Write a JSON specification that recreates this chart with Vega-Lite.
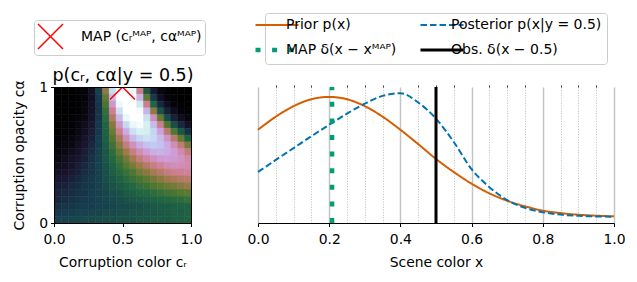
{
"$schema": "https://vega.github.io/schema/vega-lite/v6.json",
"padding": {"left": 12, "top": 12, "right": 5, "bottom": 5},
"config": {
  "font": "DejaVu Sans",
  "view": {"stroke": null},
  "axis": {"labelFont": "DejaVu Sans", "titleFont": "DejaVu Sans", "labelFontSize": 13.9, "titleFontSize": 13.9, "labelColor": "#000", "titleColor": "#000", "titleFontWeight": "normal", "tickColor": "#000", "domainColor": "#000", "grid": false},
  "legend": {"labelFont": "DejaVu Sans", "labelFontSize": 13.9, "labelColor": "#000"},
  "concat": {"spacing": 40}
},
"resolve": {"scale": {"color": "independent", "stroke": "independent", "shape": "independent", "strokeDash": "independent"}, "legend": {"color": "independent", "stroke": "independent", "shape": "independent", "strokeDash": "independent"}},
"datasets": {
"heat": [
{"c":0,"a":0.95,"v":0},{"c":0.05,"a":0.95,"v":0},{"c":0.1,"a":0.95,"v":0},{"c":0.15,"a":0.95,"v":0.01},{"c":0.2,"a":0.95,"v":0.02},{"c":0.25,"a":0.95,"v":0.08},{"c":0.3,"a":0.95,"v":0.21},{"c":0.35,"a":0.95,"v":0.48},{"c":0.4,"a":0.95,"v":0.85},{"c":0.45,"a":0.95,"v":1},{"c":0.5,"a":0.95,"v":1},{"c":0.55,"a":0.95,"v":0.96},{"c":0.6,"a":0.95,"v":0.59},{"c":0.65,"a":0.95,"v":0.27},{"c":0.7,"a":0.95,"v":0.11},{"c":0.75,"a":0.95,"v":0.03},{"c":0.8,"a":0.95,"v":0.01},{"c":0.85,"a":0.95,"v":0},{"c":0.9,"a":0.95,"v":0},{"c":0.95,"a":0.95,"v":0},
{"c":0,"a":0.9,"v":0},{"c":0.05,"a":0.9,"v":0},{"c":0.1,"a":0.9,"v":0},{"c":0.15,"a":0.9,"v":0.01},{"c":0.2,"a":0.9,"v":0.02},{"c":0.25,"a":0.9,"v":0.07},{"c":0.3,"a":0.9,"v":0.19},{"c":0.35,"a":0.9,"v":0.42},{"c":0.4,"a":0.9,"v":0.76},{"c":0.45,"a":0.9,"v":1},{"c":0.5,"a":0.9,"v":1},{"c":0.55,"a":0.9,"v":1},{"c":0.6,"a":0.9,"v":0.75},{"c":0.65,"a":0.9,"v":0.41},{"c":0.7,"a":0.9,"v":0.19},{"c":0.75,"a":0.9,"v":0.07},{"c":0.8,"a":0.9,"v":0.02},{"c":0.85,"a":0.9,"v":0.01},{"c":0.9,"a":0.9,"v":0},{"c":0.95,"a":0.9,"v":0},
{"c":0,"a":0.85,"v":0},{"c":0.05,"a":0.85,"v":0},{"c":0.1,"a":0.85,"v":0},{"c":0.15,"a":0.85,"v":0.01},{"c":0.2,"a":0.85,"v":0.03},{"c":0.25,"a":0.85,"v":0.08},{"c":0.3,"a":0.85,"v":0.18},{"c":0.35,"a":0.85,"v":0.38},{"c":0.4,"a":0.85,"v":0.68},{"c":0.45,"a":0.85,"v":0.96},{"c":0.5,"a":0.85,"v":1},{"c":0.55,"a":0.85,"v":1},{"c":0.6,"a":0.85,"v":0.89},{"c":0.65,"a":0.85,"v":0.59},{"c":0.7,"a":0.85,"v":0.3},{"c":0.75,"a":0.85,"v":0.15},{"c":0.8,"a":0.85,"v":0.06},{"c":0.85,"a":0.85,"v":0.02},{"c":0.9,"a":0.85,"v":0.01},{"c":0.95,"a":0.85,"v":0},
{"c":0,"a":0.8,"v":0},{"c":0.05,"a":0.8,"v":0},{"c":0.1,"a":0.8,"v":0},{"c":0.15,"a":0.8,"v":0.01},{"c":0.2,"a":0.8,"v":0.03},{"c":0.25,"a":0.8,"v":0.08},{"c":0.3,"a":0.8,"v":0.18},{"c":0.35,"a":0.8,"v":0.34},{"c":0.4,"a":0.8,"v":0.6},{"c":0.45,"a":0.8,"v":0.86},{"c":0.5,"a":0.8,"v":1},{"c":0.55,"a":0.8,"v":1},{"c":0.6,"a":0.8,"v":0.98},{"c":0.65,"a":0.8,"v":0.75},{"c":0.7,"a":0.8,"v":0.48},{"c":0.75,"a":0.8,"v":0.25},{"c":0.8,"a":0.8,"v":0.13},{"c":0.85,"a":0.8,"v":0.06},{"c":0.9,"a":0.8,"v":0.02},{"c":0.95,"a":0.8,"v":0.01},
{"c":0,"a":0.75,"v":0},{"c":0.05,"a":0.75,"v":0},{"c":0.1,"a":0.75,"v":0.01},{"c":0.15,"a":0.75,"v":0.02},{"c":0.2,"a":0.75,"v":0.04},{"c":0.25,"a":0.75,"v":0.09},{"c":0.3,"a":0.75,"v":0.18},{"c":0.35,"a":0.75,"v":0.32},{"c":0.4,"a":0.75,"v":0.54},{"c":0.45,"a":0.75,"v":0.76},{"c":0.5,"a":0.75,"v":0.95},{"c":0.55,"a":0.75,"v":1},{"c":0.6,"a":0.75,"v":1},{"c":0.65,"a":0.75,"v":0.86},{"c":0.7,"a":0.75,"v":0.65},{"c":0.75,"a":0.75,"v":0.42},{"c":0.8,"a":0.75,"v":0.24},{"c":0.85,"a":0.75,"v":0.13},{"c":0.9,"a":0.75,"v":0.06},{"c":0.95,"a":0.75,"v":0.03},
{"c":0,"a":0.7,"v":0},{"c":0.05,"a":0.7,"v":0.01},{"c":0.1,"a":0.7,"v":0.01},{"c":0.15,"a":0.7,"v":0.03},{"c":0.2,"a":0.7,"v":0.06},{"c":0.25,"a":0.7,"v":0.11},{"c":0.3,"a":0.7,"v":0.19},{"c":0.35,"a":0.7,"v":0.3},{"c":0.4,"a":0.7,"v":0.47},{"c":0.45,"a":0.7,"v":0.67},{"c":0.5,"a":0.7,"v":0.84},{"c":0.55,"a":0.7,"v":0.95},{"c":0.6,"a":0.7,"v":0.98},{"c":0.65,"a":0.7,"v":0.91},{"c":0.7,"a":0.7,"v":0.77},{"c":0.75,"a":0.7,"v":0.59},{"c":0.8,"a":0.7,"v":0.39},{"c":0.85,"a":0.7,"v":0.24},{"c":0.9,"a":0.7,"v":0.15},{"c":0.95,"a":0.7,"v":0.08},
{"c":0,"a":0.65,"v":0},{"c":0.05,"a":0.65,"v":0.01},{"c":0.1,"a":0.65,"v":0.02},{"c":0.15,"a":0.65,"v":0.04},{"c":0.2,"a":0.65,"v":0.07},{"c":0.25,"a":0.65,"v":0.12},{"c":0.3,"a":0.65,"v":0.19},{"c":0.35,"a":0.65,"v":0.29},{"c":0.4,"a":0.65,"v":0.43},{"c":0.45,"a":0.65,"v":0.59},{"c":0.5,"a":0.65,"v":0.74},{"c":0.55,"a":0.65,"v":0.86},{"c":0.6,"a":0.65,"v":0.91},{"c":0.65,"a":0.65,"v":0.9},{"c":0.7,"a":0.65,"v":0.83},{"c":0.75,"a":0.65,"v":0.71},{"c":0.8,"a":0.65,"v":0.55},{"c":0.85,"a":0.65,"v":0.39},{"c":0.9,"a":0.65,"v":0.26},{"c":0.95,"a":0.65,"v":0.17},
{"c":0,"a":0.6,"v":0.01},{"c":0.05,"a":0.6,"v":0.02},{"c":0.1,"a":0.6,"v":0.03},{"c":0.15,"a":0.6,"v":0.05},{"c":0.2,"a":0.6,"v":0.09},{"c":0.25,"a":0.6,"v":0.13},{"c":0.3,"a":0.6,"v":0.2},{"c":0.35,"a":0.6,"v":0.28},{"c":0.4,"a":0.6,"v":0.39},{"c":0.45,"a":0.6,"v":0.52},{"c":0.5,"a":0.6,"v":0.65},{"c":0.55,"a":0.6,"v":0.76},{"c":0.6,"a":0.6,"v":0.83},{"c":0.65,"a":0.6,"v":0.86},{"c":0.7,"a":0.6,"v":0.84},{"c":0.75,"a":0.6,"v":0.77},{"c":0.8,"a":0.6,"v":0.67},{"c":0.85,"a":0.6,"v":0.55},{"c":0.9,"a":0.6,"v":0.42},{"c":0.95,"a":0.6,"v":0.29},
{"c":0,"a":0.55,"v":0.02},{"c":0.05,"a":0.55,"v":0.03},{"c":0.1,"a":0.55,"v":0.04},{"c":0.15,"a":0.55,"v":0.07},{"c":0.2,"a":0.55,"v":0.1},{"c":0.25,"a":0.55,"v":0.15},{"c":0.3,"a":0.55,"v":0.2},{"c":0.35,"a":0.55,"v":0.27},{"c":0.4,"a":0.55,"v":0.36},{"c":0.45,"a":0.55,"v":0.47},{"c":0.5,"a":0.55,"v":0.57},{"c":0.55,"a":0.55,"v":0.66},{"c":0.6,"a":0.55,"v":0.74},{"c":0.65,"a":0.55,"v":0.78},{"c":0.7,"a":0.55,"v":0.8},{"c":0.75,"a":0.55,"v":0.78},{"c":0.8,"a":0.55,"v":0.73},{"c":0.85,"a":0.55,"v":0.65},{"c":0.9,"a":0.55,"v":0.56},{"c":0.95,"a":0.55,"v":0.45},
{"c":0,"a":0.5,"v":0.03},{"c":0.05,"a":0.5,"v":0.04},{"c":0.1,"a":0.5,"v":0.06},{"c":0.15,"a":0.5,"v":0.08},{"c":0.2,"a":0.5,"v":0.12},{"c":0.25,"a":0.5,"v":0.16},{"c":0.3,"a":0.5,"v":0.21},{"c":0.35,"a":0.5,"v":0.26},{"c":0.4,"a":0.5,"v":0.33},{"c":0.45,"a":0.5,"v":0.42},{"c":0.5,"a":0.5,"v":0.5},{"c":0.55,"a":0.5,"v":0.58},{"c":0.6,"a":0.5,"v":0.65},{"c":0.65,"a":0.5,"v":0.7},{"c":0.7,"a":0.5,"v":0.74},{"c":0.75,"a":0.5,"v":0.75},{"c":0.8,"a":0.5,"v":0.73},{"c":0.85,"a":0.5,"v":0.7},{"c":0.9,"a":0.5,"v":0.64},{"c":0.95,"a":0.5,"v":0.57},
{"c":0,"a":0.45,"v":0.04},{"c":0.05,"a":0.45,"v":0.06},{"c":0.1,"a":0.45,"v":0.08},{"c":0.15,"a":0.45,"v":0.1},{"c":0.2,"a":0.45,"v":0.13},{"c":0.25,"a":0.45,"v":0.17},{"c":0.3,"a":0.45,"v":0.21},{"c":0.35,"a":0.45,"v":0.26},{"c":0.4,"a":0.45,"v":0.31},{"c":0.45,"a":0.45,"v":0.37},{"c":0.5,"a":0.45,"v":0.44},{"c":0.55,"a":0.45,"v":0.51},{"c":0.6,"a":0.45,"v":0.57},{"c":0.65,"a":0.45,"v":0.62},{"c":0.7,"a":0.45,"v":0.66},{"c":0.75,"a":0.45,"v":0.69},{"c":0.8,"a":0.45,"v":0.7},{"c":0.85,"a":0.45,"v":0.69},{"c":0.9,"a":0.45,"v":0.67},{"c":0.95,"a":0.45,"v":0.63},
{"c":0,"a":0.4,"v":0.06},{"c":0.05,"a":0.4,"v":0.07},{"c":0.1,"a":0.4,"v":0.09},{"c":0.15,"a":0.4,"v":0.12},{"c":0.2,"a":0.4,"v":0.15},{"c":0.25,"a":0.4,"v":0.18},{"c":0.3,"a":0.4,"v":0.21},{"c":0.35,"a":0.4,"v":0.25},{"c":0.4,"a":0.4,"v":0.29},{"c":0.45,"a":0.4,"v":0.34},{"c":0.5,"a":0.4,"v":0.4},{"c":0.55,"a":0.4,"v":0.45},{"c":0.6,"a":0.4,"v":0.5},{"c":0.65,"a":0.4,"v":0.54},{"c":0.7,"a":0.4,"v":0.58},{"c":0.75,"a":0.4,"v":0.61},{"c":0.8,"a":0.4,"v":0.64},{"c":0.85,"a":0.4,"v":0.65},{"c":0.9,"a":0.4,"v":0.65},{"c":0.95,"a":0.4,"v":0.64},
{"c":0,"a":0.35,"v":0.08},{"c":0.05,"a":0.35,"v":0.09},{"c":0.1,"a":0.35,"v":0.11},{"c":0.15,"a":0.35,"v":0.13},{"c":0.2,"a":0.35,"v":0.16},{"c":0.25,"a":0.35,"v":0.18},{"c":0.3,"a":0.35,"v":0.21},{"c":0.35,"a":0.35,"v":0.24},{"c":0.4,"a":0.35,"v":0.28},{"c":0.45,"a":0.35,"v":0.31},{"c":0.5,"a":0.35,"v":0.35},{"c":0.55,"a":0.35,"v":0.39},{"c":0.6,"a":0.35,"v":0.44},{"c":0.65,"a":0.35,"v":0.47},{"c":0.7,"a":0.35,"v":0.51},{"c":0.75,"a":0.35,"v":0.54},{"c":0.8,"a":0.35,"v":0.57},{"c":0.85,"a":0.35,"v":0.59},{"c":0.9,"a":0.35,"v":0.6},{"c":0.95,"a":0.35,"v":0.61},
{"c":0,"a":0.3,"v":0.1},{"c":0.05,"a":0.3,"v":0.11},{"c":0.1,"a":0.3,"v":0.13},{"c":0.15,"a":0.3,"v":0.15},{"c":0.2,"a":0.3,"v":0.17},{"c":0.25,"a":0.3,"v":0.19},{"c":0.3,"a":0.3,"v":0.21},{"c":0.35,"a":0.3,"v":0.24},{"c":0.4,"a":0.3,"v":0.26},{"c":0.45,"a":0.3,"v":0.29},{"c":0.5,"a":0.3,"v":0.32},{"c":0.55,"a":0.3,"v":0.35},{"c":0.6,"a":0.3,"v":0.38},{"c":0.65,"a":0.3,"v":0.41},{"c":0.7,"a":0.3,"v":0.44},{"c":0.75,"a":0.3,"v":0.47},{"c":0.8,"a":0.3,"v":0.5},{"c":0.85,"a":0.3,"v":0.52},{"c":0.9,"a":0.3,"v":0.54},{"c":0.95,"a":0.3,"v":0.55},
{"c":0,"a":0.25,"v":0.12},{"c":0.05,"a":0.25,"v":0.13},{"c":0.1,"a":0.25,"v":0.15},{"c":0.15,"a":0.25,"v":0.16},{"c":0.2,"a":0.25,"v":0.18},{"c":0.25,"a":0.25,"v":0.19},{"c":0.3,"a":0.25,"v":0.21},{"c":0.35,"a":0.25,"v":0.23},{"c":0.4,"a":0.25,"v":0.25},{"c":0.45,"a":0.25,"v":0.27},{"c":0.5,"a":0.25,"v":0.29},{"c":0.55,"a":0.25,"v":0.31},{"c":0.6,"a":0.25,"v":0.34},{"c":0.65,"a":0.25,"v":0.36},{"c":0.7,"a":0.25,"v":0.39},{"c":0.75,"a":0.25,"v":0.41},{"c":0.8,"a":0.25,"v":0.43},{"c":0.85,"a":0.25,"v":0.45},{"c":0.9,"a":0.25,"v":0.47},{"c":0.95,"a":0.25,"v":0.49},
{"c":0,"a":0.2,"v":0.14},{"c":0.05,"a":0.2,"v":0.15},{"c":0.1,"a":0.2,"v":0.16},{"c":0.15,"a":0.2,"v":0.17},{"c":0.2,"a":0.2,"v":0.18},{"c":0.25,"a":0.2,"v":0.2},{"c":0.3,"a":0.2,"v":0.21},{"c":0.35,"a":0.2,"v":0.22},{"c":0.4,"a":0.2,"v":0.24},{"c":0.45,"a":0.2,"v":0.25},{"c":0.5,"a":0.2,"v":0.27},{"c":0.55,"a":0.2,"v":0.28},{"c":0.6,"a":0.2,"v":0.3},{"c":0.65,"a":0.2,"v":0.31},{"c":0.7,"a":0.2,"v":0.33},{"c":0.75,"a":0.2,"v":0.35},{"c":0.8,"a":0.2,"v":0.37},{"c":0.85,"a":0.2,"v":0.38},{"c":0.9,"a":0.2,"v":0.4},{"c":0.95,"a":0.2,"v":0.41},
{"c":0,"a":0.15,"v":0.15},{"c":0.05,"a":0.15,"v":0.16},{"c":0.1,"a":0.15,"v":0.17},{"c":0.15,"a":0.15,"v":0.18},{"c":0.2,"a":0.15,"v":0.19},{"c":0.25,"a":0.15,"v":0.2},{"c":0.3,"a":0.15,"v":0.21},{"c":0.35,"a":0.15,"v":0.22},{"c":0.4,"a":0.15,"v":0.23},{"c":0.45,"a":0.15,"v":0.24},{"c":0.5,"a":0.15,"v":0.25},{"c":0.55,"a":0.15,"v":0.26},{"c":0.6,"a":0.15,"v":0.27},{"c":0.65,"a":0.15,"v":0.28},{"c":0.7,"a":0.15,"v":0.29},{"c":0.75,"a":0.15,"v":0.3},{"c":0.8,"a":0.15,"v":0.31},{"c":0.85,"a":0.15,"v":0.32},{"c":0.9,"a":0.15,"v":0.33},{"c":0.95,"a":0.15,"v":0.35},
{"c":0,"a":0.1,"v":0.17},{"c":0.05,"a":0.1,"v":0.18},{"c":0.1,"a":0.1,"v":0.18},{"c":0.15,"a":0.1,"v":0.19},{"c":0.2,"a":0.1,"v":0.2},{"c":0.25,"a":0.1,"v":0.2},{"c":0.3,"a":0.1,"v":0.21},{"c":0.35,"a":0.1,"v":0.21},{"c":0.4,"a":0.1,"v":0.22},{"c":0.45,"a":0.1,"v":0.23},{"c":0.5,"a":0.1,"v":0.23},{"c":0.55,"a":0.1,"v":0.24},{"c":0.6,"a":0.1,"v":0.24},{"c":0.65,"a":0.1,"v":0.25},{"c":0.7,"a":0.1,"v":0.26},{"c":0.75,"a":0.1,"v":0.27},{"c":0.8,"a":0.1,"v":0.27},{"c":0.85,"a":0.1,"v":0.28},{"c":0.9,"a":0.1,"v":0.29},{"c":0.95,"a":0.1,"v":0.29},
{"c":0,"a":0.05,"v":0.19},{"c":0.05,"a":0.05,"v":0.2},{"c":0.1,"a":0.05,"v":0.2},{"c":0.15,"a":0.05,"v":0.21},{"c":0.2,"a":0.05,"v":0.21},{"c":0.25,"a":0.05,"v":0.22},{"c":0.3,"a":0.05,"v":0.22},{"c":0.35,"a":0.05,"v":0.23},{"c":0.4,"a":0.05,"v":0.23},{"c":0.45,"a":0.05,"v":0.24},{"c":0.5,"a":0.05,"v":0.24},{"c":0.55,"a":0.05,"v":0.25},{"c":0.6,"a":0.05,"v":0.25},{"c":0.65,"a":0.05,"v":0.26},{"c":0.7,"a":0.05,"v":0.26},{"c":0.75,"a":0.05,"v":0.27},{"c":0.8,"a":0.05,"v":0.27},{"c":0.85,"a":0.05,"v":0.28},{"c":0.9,"a":0.05,"v":0.28},{"c":0.95,"a":0.05,"v":0.29},
{"c":0,"a":0,"v":0.21},{"c":0.05,"a":0,"v":0.21},{"c":0.1,"a":0,"v":0.22},{"c":0.15,"a":0,"v":0.22},{"c":0.2,"a":0,"v":0.23},{"c":0.25,"a":0,"v":0.23},{"c":0.3,"a":0,"v":0.24},{"c":0.35,"a":0,"v":0.24},{"c":0.4,"a":0,"v":0.24},{"c":0.45,"a":0,"v":0.25},{"c":0.5,"a":0,"v":0.25},{"c":0.55,"a":0,"v":0.25},{"c":0.6,"a":0,"v":0.26},{"c":0.65,"a":0,"v":0.26},{"c":0.7,"a":0,"v":0.27},{"c":0.75,"a":0,"v":0.27},{"c":0.8,"a":0,"v":0.27},{"c":0.85,"a":0,"v":0.28},{"c":0.9,"a":0,"v":0.28},{"c":0.95,"a":0,"v":0.29}
],
"map": [{"c": 0.5, "a": 1.0, "label": "MAP (cᵣᴹᴬᴾ, cαᴹᴬᴾ)"}],
"curves": [
{"series":"Prior p(x)","x":0,"y":0.704},{"series":"Prior p(x)","x":0.05,"y":0.81},{"series":"Prior p(x)","x":0.1,"y":0.895},{"series":"Prior p(x)","x":0.15,"y":0.951},{"series":"Prior p(x)","x":0.2,"y":0.97},{"series":"Prior p(x)","x":0.25,"y":0.951},{"series":"Prior p(x)","x":0.3,"y":0.895},{"series":"Prior p(x)","x":0.35,"y":0.81},{"series":"Prior p(x)","x":0.4,"y":0.704},{"series":"Prior p(x)","x":0.45,"y":0.588},{"series":"Prior p(x)","x":0.5,"y":0.468},{"series":"Prior p(x)","x":0.55,"y":0.362},{"series":"Prior p(x)","x":0.6,"y":0.268},{"series":"Prior p(x)","x":0.65,"y":0.19},{"series":"Prior p(x)","x":0.7,"y":0.13},{"series":"Prior p(x)","x":0.75,"y":0.085},{"series":"Prior p(x)","x":0.8,"y":0.05},{"series":"Prior p(x)","x":0.85,"y":0.03},{"series":"Prior p(x)","x":0.9,"y":0.017},{"series":"Prior p(x)","x":0.95,"y":0.009},{"series":"Prior p(x)","x":1,"y":0.004},
{"series":"Posterior p(x|y = 0.5)","x":0,"y":0.363},{"series":"Posterior p(x|y = 0.5)","x":0.05,"y":0.46},{"series":"Posterior p(x|y = 0.5)","x":0.1,"y":0.556},{"series":"Posterior p(x|y = 0.5)","x":0.15,"y":0.652},{"series":"Posterior p(x|y = 0.5)","x":0.2,"y":0.745},{"series":"Posterior p(x|y = 0.5)","x":0.25,"y":0.835},{"series":"Posterior p(x|y = 0.5)","x":0.3,"y":0.915},{"series":"Posterior p(x|y = 0.5)","x":0.35,"y":0.978},{"series":"Posterior p(x|y = 0.5)","x":0.4,"y":1.0},{"series":"Posterior p(x|y = 0.5)","x":0.45,"y":0.925},{"series":"Posterior p(x|y = 0.5)","x":0.5,"y":0.794},{"series":"Posterior p(x|y = 0.5)","x":0.55,"y":0.605},{"series":"Posterior p(x|y = 0.5)","x":0.6,"y":0.385},{"series":"Posterior p(x|y = 0.5)","x":0.65,"y":0.24},{"series":"Posterior p(x|y = 0.5)","x":0.7,"y":0.135},{"series":"Posterior p(x|y = 0.5)","x":0.75,"y":0.072},{"series":"Posterior p(x|y = 0.5)","x":0.8,"y":0.037},{"series":"Posterior p(x|y = 0.5)","x":0.85,"y":0.018},{"series":"Posterior p(x|y = 0.5)","x":0.9,"y":0.008},{"series":"Posterior p(x|y = 0.5)","x":0.95,"y":0.003},{"series":"Posterior p(x|y = 0.5)","x":1,"y":0.001}
],
"vlines": [
{"series":"MAP δ(x − xᴹᴬᴾ)","x":0.208,"y":-0.05},{"series":"MAP δ(x − xᴹᴬᴾ)","x":0.208,"y":1.05},
{"series":"Obs. δ(x − 0.5)","x":0.5,"y":-0.05},{"series":"Obs. δ(x − 0.5)","x":0.5,"y":1.05}
]
},
"hconcat": [
{
  "width": 137, "height": 136,
  "layer": [
    {
      "data": {"name": "heat"},
      "mark": {"type": "rect", "strokeWidth": 0.6},
      "encoding": {
        "x": {"field": "c", "type": "quantitative", "bin": {"binned": true, "step": 0.05},
              "scale": {"domain": [0, 1], "nice": false, "zero": false},
              "axis": {"values": [0, 0.5, 1], "format": ".1f", "title": "Corruption color cᵣ", "tickSize": 3.5, "labelPadding": 6, "titlePadding": 9, "zindex": 1, "labelFlush": false}},
        "y": {"field": "a", "type": "quantitative", "bin": {"binned": true, "step": 0.05},
              "scale": {"domain": [0, 1], "nice": false, "zero": false},
              "axis": {"values": [0, 1], "format": "d", "title": "Corruption opacity cα", "tickSize": 3.5, "labelPadding": 3, "titlePadding": 12, "zindex": 1, "labelFlush": false}},
        "color": {"field": "v", "type": "quantitative",
                  "scale": {"domain": [0, 0.1, 0.2, 0.3, 0.4, 0.5, 0.6, 0.7, 0.8, 0.9, 1],
                            "range": ["#000000", "#1a1530", "#163d4e", "#1f6642", "#54792f", "#a07949", "#d07e93", "#cf9cda", "#c1caf3", "#d2eeef", "#ffffff"],
                            "interpolate": "rgb"},
                  "legend": null},
        "stroke": {"field": "v", "type": "quantitative",
                  "scale": {"domain": [0, 0.1, 0.2, 0.3, 0.4, 0.5, 0.6, 0.7, 0.8, 0.9, 1],
                            "range": ["#000000", "#1a1530", "#163d4e", "#1f6642", "#54792f", "#a07949", "#d07e93", "#cf9cda", "#c1caf3", "#d2eeef", "#ffffff"],
                            "interpolate": "rgb"},
                  "legend": null}
      }
    },
    {
      "data": {"name": "map"},
      "mark": {"type": "point", "clip": true, "filled": false, "stroke": "#ff0000", "strokeWidth": 1.5, "size": 625, "opacity": 1},
      "encoding": {
        "x": {"field": "c", "type": "quantitative", "axis": {"orient": "top", "labels": false, "ticks": false, "title": "p(cᵣ, cα|y = 0.5)", "titleFontSize": 17.5, "titlePadding": 3, "zindex": 1}},
        "y": {"field": "a", "type": "quantitative", "axis": {"orient": "right", "labels": false, "ticks": false, "title": null, "zindex": 1}},
        "shape": {"field": "label", "type": "nominal", "scale": {"range": ["M-1,-1L1,1M-1,1L1,-1"]},
                  "legend": {"orient": "none", "legendX": -20, "legendY": -67, "title": null, "symbolSize": 625, "symbolStrokeWidth": 1.5, "symbolStrokeColor": "#ff0000", "symbolFillColor": "transparent", "padding": 3, "labelOffset": 17, "labelFontSize": 14, "strokeColor": "#cccccc", "fillColor": "rgba(255,255,255,0.8)", "cornerRadius": 3}}
      }
    }
  ],
  "resolve": {"axis": {"x": "independent", "y": "independent"}}
},
{
  "width": 356, "height": 136,
  "layer": [
    {
      "data": {"name": "curves"},
      "mark": {"type": "line", "interpolate": "monotone", "strokeWidth": 2},
      "encoding": {
        "x": {"field": "x", "type": "quantitative", "scale": {"domain": [0, 1], "nice": false, "zero": false},
              "axis": {"values": [0, 0.2, 0.4, 0.6, 0.8, 1], "format": ".1f", "title": "Scene color x", "tickSize": 3.5, "labelPadding": 6, "titlePadding": 9, "grid": true, "gridColor": "#c4c4c4", "gridWidth": 1.5, "labelFlush": false}},
        "y": {"field": "y", "type": "quantitative", "scale": {"domain": [-0.05, 1.05], "nice": false, "zero": false}, "axis": null},
        "color": {"field": "series", "type": "nominal",
                  "scale": {"domain": ["Prior p(x)", "Posterior p(x|y = 0.5)", "MAP δ(x − xᴹᴬᴾ)", "Obs. δ(x − 0.5)"], "range": ["#d55e00", "#0173b2", "#029e73", "#000000"]},
                  "legend": {"orient": "none", "direction": "horizontal", "legendX": 7, "legendY": -74, "title": null, "columns": 2, "symbolType": "stroke", "symbolSize": 1850, "labelOffset": 2, "columnPadding": 17, "rowPadding": 9, "padding": 5, "labelFontSize": 14, "strokeColor": "#cccccc", "fillColor": "rgba(255,255,255,0.8)", "cornerRadius": 3,
                             "encode": {"symbols": {"update": {"strokeWidth": {"signal": "datum.value === 'MAP δ(x − xᴹᴬᴾ)' ? 4.5 : datum.value === 'Obs. δ(x − 0.5)' ? 3 : 2"}}}}}},
        "strokeDash": {"field": "series", "type": "nominal",
                  "scale": {"domain": ["Prior p(x)", "Posterior p(x|y = 0.5)", "MAP δ(x − xᴹᴬᴾ)", "Obs. δ(x − 0.5)"], "range": [[1, 0], [6.5, 3], [5, 11.6], [1, 0]]},
                  "legend": {"orient": "none", "direction": "horizontal", "legendX": 7, "legendY": -74, "title": null, "columns": 2, "symbolType": "stroke", "symbolSize": 1850, "labelOffset": 2, "columnPadding": 17, "rowPadding": 9, "padding": 5, "labelFontSize": 14, "strokeColor": "#cccccc", "fillColor": "rgba(255,255,255,0.8)", "cornerRadius": 3,
                             "encode": {"symbols": {"update": {"strokeWidth": {"signal": "datum.value === 'MAP δ(x − xᴹᴬᴾ)' ? 4.5 : datum.value === 'Obs. δ(x − 0.5)' ? 3 : 2"}}}}}}
      }
    },
    {
      "data": {"name": "vlines"},
      "mark": {"type": "line"},
      "encoding": {
        "x": {"field": "x", "type": "quantitative",
              "axis": {"values": [0.05, 0.1, 0.15, 0.25, 0.3, 0.35, 0.45, 0.5, 0.55, 0.65, 0.7, 0.75, 0.85, 0.9, 0.95], "labels": false, "title": null, "domain": false, "tickSize": 2, "tickWidth": 0.8, "grid": true, "gridColor": "#b8b8b8", "gridWidth": 0.9, "gridDash": [1, 1.6]}},
        "y": {"field": "y", "type": "quantitative"},
        "color": {"field": "series", "type": "nominal"},
        "strokeDash": {"field": "series", "type": "nominal"},
        "strokeWidth": {"condition": {"test": "datum.series === 'Obs. δ(x − 0.5)'", "value": 3}, "value": 4.5}
      }
    }
  ],
  "resolve": {"axis": {"x": "independent"}}
}
]
}
